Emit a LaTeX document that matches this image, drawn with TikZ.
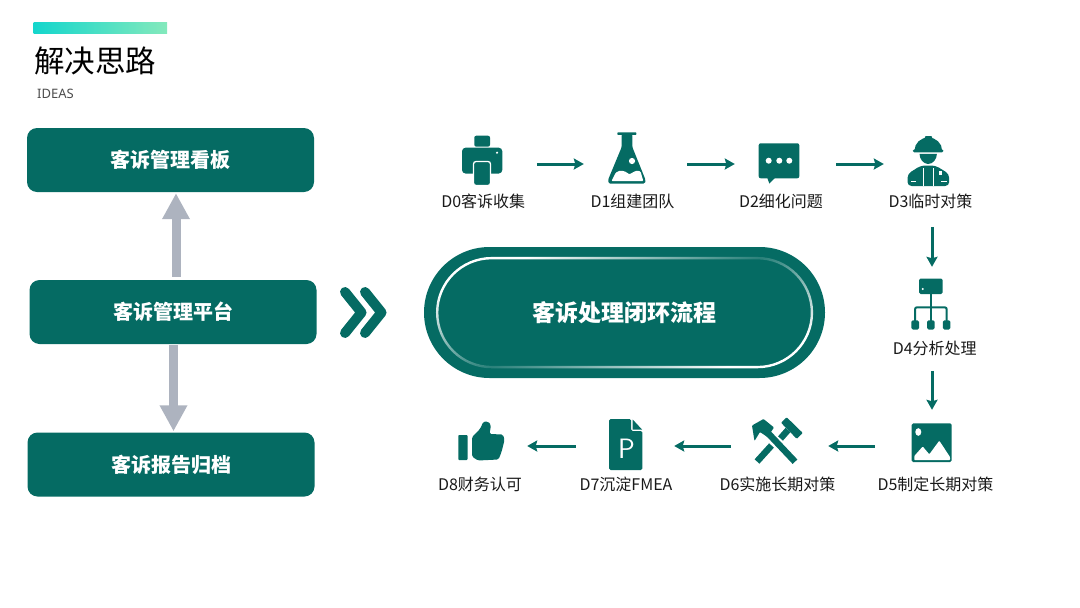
\documentclass[tikz,border=0pt]{standalone}
\usepackage{fontspec}
\usepackage{xcolor}
\setmainfont{Noto Sans CJK SC}
\newfontfamily\latinfont{Noto Sans}
\usetikzlibrary{arrows.meta,positioning,fadings}
\definecolor{deepgreen}{HTML}{056B63}
\definecolor{arrowgray}{HTML}{ADB3BF}
\definecolor{barstart}{HTML}{14D6CC}
\definecolor{barend}{HTML}{84E9BC}
\tikzfading[name=ringfade, top color=transparent!0, bottom color=transparent!0, middle color=transparent!85]

\begin{document}
\begin{tikzpicture}[
    x=1pt, y=-1pt,
    panel/.style={rectangle, rounded corners=10pt, fill=deepgreen, text=white, minimum width=287pt, minimum height=64pt, font=\fontsize{20}{24}\selectfont\bfseries},
    bigarrow/.style={-{Triangle[length=26pt,width=26pt]}, arrowgray, line width=9pt},
    flow/.style={-{Stealth[length=10pt,width=11pt,inset=1.5pt]}, deepgreen, line width=3pt},
    iconbox/.style={rectangle, minimum width=40pt, minimum height=40pt, inner sep=0pt},
    dlabel/.style={font=\fontsize{16}{20}\selectfont, text=black!90},
    icon/.style={fill=deepgreen},
    hole/.style={fill=white}
]
\useasboundingbox (0,0) rectangle (1080,608);

% Title
\shade[left color=barstart, right color=barend] (33.5,22) rectangle (167,33.5);
\node[anchor=west, inner sep=0pt, font=\fontsize{30.5}{36}\selectfont] (title) at (34,60.5) {解决思路};
\node[anchor=west, inner sep=0pt, text=black!70, font=\latinfont\fontsize{13}{16}\selectfont] (ideas) at (37,94) {IDEAS};

% Left column
\node[panel] (board) at (170.5,160) {客诉管理看板};
\node[panel] (platform) at (173,312) {客诉管理平台};
\node[panel] (archive) at (171,464.5) {客诉报告归档};
\draw[bigarrow, shorten <=3pt, shorten >=1pt] ([xshift=3pt]platform.north) -- ([xshift=5.5pt]board.south);
\draw[bigarrow, shorten <=1pt, shorten >=1pt] ([xshift=0.5pt]platform.south) -- ([xshift=2.5pt]archive.north);

% Chevrons
\foreach \xpos in {345,365} {
    \draw[deepgreen, line width=10pt, line cap=round, line join=round] (\xpos,292) -- (\xpos+16.5,312.5) -- (\xpos,333);
}

% Closed loop
\node[rectangle, rounded corners=65.5pt, fill=deepgreen, text=white, minimum width=401pt, minimum height=131pt, font=\fontsize{23}{28}\selectfont\bfseries] (loop) at (624.5,312.5) {客诉处理闭环流程};
\draw[white, line width=2.4pt, rounded corners=54.5pt, path fading=ringfade, fit fading=true, fading angle=54] (437,258) rectangle (812,367);

% Step anchors
\node[iconbox] (d0) at (482,164) {};
\node[iconbox] (d1) at (627,164) {};
\node[iconbox] (d2) at (779,164) {};
\node[iconbox] (d3) at (928,164) {};
\node[iconbox] (d4) at (932,304) {};
\node[iconbox] (d5) at (932,446) {};
\node[iconbox] (d6) at (778,446) {};
\node[iconbox] (d7) at (626,446) {};
\node[iconbox] (d8) at (481,446) {};

% Step labels
\node[dlabel] (d0text) at (483.3,201) {D0客诉收集};
\node[dlabel] (d1text) at (632.5,201) {D1组建团队};
\node[dlabel] (d2text) at (781,201) {D2细化问题};
\node[dlabel] (d3text) at (930.5,201) {D3临时对策};
\node[dlabel] (d4text) at (934.7,348) {D4分析处理};
\node[dlabel] (d5text) at (935.5,484) {D5制定长期对策};
\node[dlabel] (d6text) at (777.5,484) {D6实施长期对策};
\node[dlabel] (d7text) at (626,484) {D7沉淀FMEA};
\node[dlabel] (d8text) at (480,484) {D8财务认可};

% Flow arrows
\draw[flow, shorten <=34.7pt, shorten >=23pt] (d0) -- (d1);
\draw[flow, shorten <=40pt, shorten >=24pt] (d1) -- (d2);
\draw[flow, shorten <=37pt, shorten >=24pt] (d2) -- (d3);
\draw[flow, shorten <=15pt, shorten >=17pt] (d3text.south -| d4) -- (d4.north);
\draw[flow, shorten <=12pt, shorten >=16pt] (d4text.south -| d4) -- (d5.north);
\draw[flow, shorten <=37pt, shorten >=30pt] (d5) -- (d6);
\draw[flow, shorten <=27pt, shorten >=28pt] (d6) -- (d7);
\draw[flow, shorten <=30pt, shorten >=26pt] (d7) -- (d8);

% D0 printer
\fill[icon, rounded corners=2pt] (474.3,135.7) rectangle (490,146.7);
\fill[icon, rounded corners=3.5pt] (462,147.7) rectangle (502.3,173.5);
\draw[icon, draw=white, line width=1.3pt, rounded corners=2.5pt] (473.5,161.5) rectangle (490.5,185.5);
\fill[hole] (497,152.7) circle (1.2);

% D1 flask
\fill[icon, rounded corners=0.6pt] (617.3,132.4) rectangle (636.4,134.8);
\fill[icon, rounded corners=1.5pt] (621.7,134) -- (632.3,134) -- (632.3,147) -- (645.6,180) -- (645,183.6) -- (608.6,183.6) -- (608,180) -- (621.7,147) -- cycle;
\fill[hole, rounded corners=1pt] (611.5,181.2) -- (615.5,173) .. controls (620,169.5) and (625,171) .. (628,173.5) .. controls (631,175) and (635,169) .. (640.5,171.5) -- (643.4,181.2) -- cycle;
\fill[hole] (632,161) circle (3.1);

% D2 chat
\fill[icon, rounded corners=2pt] (758.7,143.3) rectangle (799.3,178.3);
\fill[icon] (767,177) -- (769.3,183.5) -- (776,177) -- cycle;
\foreach \xpos in {768.7,779.3,789.3} {
    \fill[hole] (\xpos,160.7) circle (3);
}

% D3 worker
\fill[icon] (914.5,150.5) arc (180:360:13.8 and 13) -- cycle;
\fill[icon, rounded corners=1.5pt] (912.7,149.4) rectangle (943.5,152.4);
\fill[icon, rounded corners=1pt] (924.8,136) rectangle (932,141);
\fill[icon] (919.5,153.8) -- (936.9,153.8) .. controls (936.9,159) and (933,164) .. (928.2,164) .. controls (923.4,164) and (919.5,159) .. (919.5,153.8) -- cycle;
\fill[icon, rounded corners=4pt] (907.5,186) -- (907.5,174) -- (921,165.5) -- (935.5,165.5) -- (949.2,174) -- (949.2,186) -- cycle;
\draw[white, line width=1pt] (923.3,168) -- (923.3,186) (933.5,168) -- (933.5,186);
\fill[hole] (938.7,171) rectangle (942,175);
\fill[hole] (910.5,180.8) rectangle (916,182.3);
\fill[hole] (941,180.8) rectangle (946.5,182.3);

% D4 tree
\fill[icon, rounded corners=1.5pt] (919,278.7) rectangle (942.7,294);
\fill[hole] (922.7,289) circle (1.2);
\draw[deepgreen, line width=2pt, rounded corners=2pt] (915,321) -- (915,307.3) -- (946.7,307.3) -- (946.7,321);
\draw[deepgreen, line width=2pt] (930.7,294) -- (930.7,321);
\foreach \xpos in {915.2,930.8,946.6} {
    \fill[icon, rounded corners=1.5pt] (\xpos-3.8,320.3) rectangle (\xpos+3.8,329.5);
}

% D5 picture
\fill[icon, rounded corners=1.5pt] (911.7,423.3) rectangle (951.7,462);
\fill[hole] (918.3,432) ellipse (3 and 3.8);
\fill[hole, rounded corners=0.8pt] (914.3,460.2) -- (914.3,456) -- (922.7,446.5) -- (929.3,454.3) -- (939.3,440.7) -- (950,457) -- (950,460.2) -- cycle;

% D6 tools
\draw[deepgreen, line width=6.5pt] (766,431) -- (795,461.7);
\draw[deepgreen, line width=6.5pt] (771.5,445.5) -- (757,461.5);
\draw[deepgreen, line width=6.5pt] (788,430) -- (780.5,438.5);
\fill[icon, rounded corners=0.8pt] (781,422.7) -- (786.7,417.3) -- (802.8,433) -- (796.7,438.8) -- cycle;
\fill[icon, rounded corners=0.8pt] (754.5,441) -- (752,425.5) -- (763.5,419) -- (774,427.5) -- (767.5,437) -- (760,432) -- cycle;

% D7 document
\fill[icon, rounded corners=1.5pt] (609,419) -- (631,419) -- (631,431) -- (642.3,431) -- (642.3,470) -- (609,470) -- cycle;
\fill[icon] (632.7,419.5) -- (642,429.5) -- (632.7,429.5) -- cycle;
\node[text=white, inner sep=0pt, font=\sffamily\fontsize{28}{32}\selectfont] (dochead) at (626.5,448.5) {P};

% D8 thumb
\fill[icon, rounded corners=0.8pt] (458.3,435) rectangle (467.5,460);
\fill[icon, rounded corners=1.6pt] (472,437) -- (480,429) -- (483.5,421.5) -- (488,421.5) -- (491,425) -- (489.5,434) -- (503,434.5) -- (504.5,440) -- (503,446) -- (501.5,452) -- (498.5,459.5) -- (478,460.5) -- (472,456.5) -- cycle;

\end{tikzpicture}
\end{document}
